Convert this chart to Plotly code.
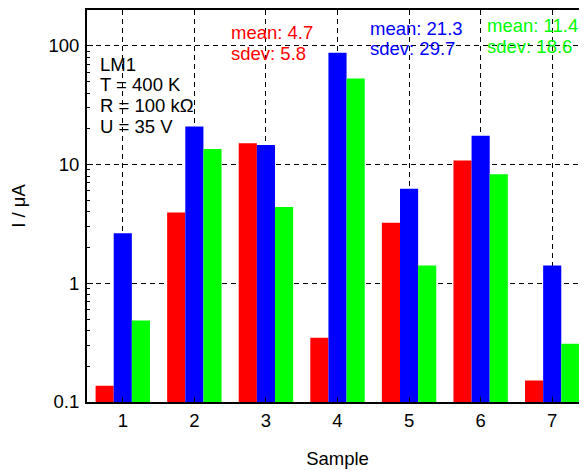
import plotly.graph_objects as go

samples = [1, 2, 3, 4, 5, 6, 7]
red_vals = [0.137, 3.94, 15.1, 0.348, 3.23, 10.8, 0.152]
blue_vals = [2.64, 20.9, 14.6, 87.1, 6.26, 17.5, 1.41]
green_vals = [0.486, 13.5, 4.39, 53.0, 1.41, 8.26, 0.310]
series_names = ["red", "blue", "green"]
series_colors = ["#ff0000", "#0000ff", "#00ff00"]
info_lines = ["LM1", "T = 400 K", "R = 100 k\u03a9", "U = 35 V"]
stats_text = [("mean: 4.7", "sdev: 5.8"), ("mean: 21.3", "sdev: 29.7"), ("mean: 11.4", "sdev: 18.6")]

# page has an 8px body margin; work in page coordinates and convert
OFF = 8
W, H = 587, 470
L, T, R, B = 87, 8, 588, 402  # plot area in page pixels
FONT = "Arial, Liberation Sans, sans-serif"
FS = 18.5

fig = go.Figure()
for name, vals, col in zip(series_names, [red_vals, blue_vals, green_vals], series_colors):
    fig.add_trace(go.Bar(x=samples, y=vals, name=name, marker=dict(color=col, line=dict(width=0)),
                         showlegend=False))

def px(x):
    return (x - L) / (R - L)

def py(y):
    return (B - y) / (B - T)

ann = []
for line, yy in zip(info_lines, [63, 83, 104, 125]):
    ann.append(dict(x=px(98), y=py(yy), xref="paper", yref="paper", text=line, showarrow=False,
                    xanchor="left", yanchor="middle", font=dict(color="black", size=FS, family=FONT)))
stat_pos = [(229, 31, 52), (368, 27, 47), (485, 24, 45)]
for (m, s), (xx, y1, y2), col in zip(stats_text, stat_pos, series_colors):
    for txt, yy in [(m, y1), (s, y2)]:
        ann.append(dict(x=px(xx), y=py(yy), xref="paper", yref="paper", text=txt, showarrow=False,
                        xanchor="left", yanchor="middle", font=dict(color=col, size=FS, family=FONT)))

fig.update_layout(
    width=W, height=H,
    margin=dict(l=L - OFF, r=W - (R - OFF), t=T - OFF, b=H - (B - OFF), pad=0),
    paper_bgcolor="white", plot_bgcolor="white",
    barmode="group", bargap=0.24, bargroupgap=0,
    font=dict(family=FONT, size=FS, color="black"),
    annotations=ann,
    xaxis=dict(range=[0.5, 7.5], tickmode="array", tickvals=samples, ticktext=[str(s) for s in samples],
               showline=True, linecolor="black", linewidth=2, mirror="ticks",
               ticks="inside", ticklen=5, tickcolor="black",
               showgrid=True, gridcolor="black", gridwidth=1, griddash="5px,4px",
               zeroline=False, ticklabelstandoff=1,
               title=dict(text="Sample", standoff=22, font=dict(size=FS))),
    yaxis=dict(type="log", range=[-1, 2.301], dtick=1,
               showline=True, linecolor="black", linewidth=2, mirror="ticks",
               ticks="inside", ticklen=6, tickcolor="black",
               minor=dict(ticks="inside", ticklen=3, tickcolor="black", dtick="D1", showgrid=False),
               showgrid=True, gridcolor="black", gridwidth=1, griddash="5px,4px",
               zeroline=False, ticklabelstandoff=2,
               title=dict(text="I / \u03bcA", standoff=27, font=dict(size=FS))),
)

fig.write_html("out.html")
